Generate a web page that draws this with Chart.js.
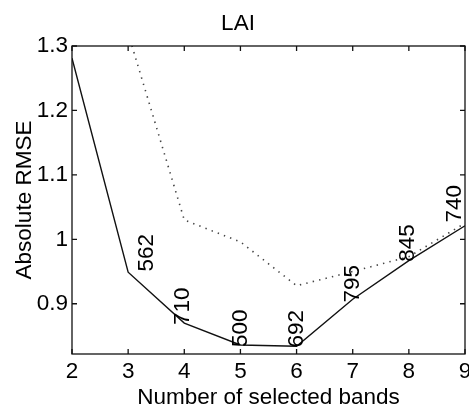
<!DOCTYPE html>
<html><head><meta charset="utf-8">
<script src="https://cdn.jsdelivr.net/npm/chart.js@4/dist/chart.umd.min.js"></script>
<style>html,body{margin:0;padding:0;background:#fff}#wrap{width:469px;height:408px}</style>
</head><body><div id="wrap"><canvas id="c" width="469" height="408"></canvas></div>
<script>
// ---- data ----
const bands = [2, 3, 4, 5, 6, 7, 8, 9];
const rmseSelected = [1.281, 0.949, 0.870, 0.836, 0.834, 0.907, 0.967, 1.021];
const rmseDotted = [null, 1.32, 1.030, 0.996, 0.928, 0.950, 0.973, 1.025];
const bandNames = ['562', '710', '500', '692', '795', '845', '740'];
const bandLabelX = [3.34, 3.98, 5.0, 6.0, 7.0, 7.99, 8.82];
const bandLabelY = [0.950, 0.867, 0.833, 0.832, 0.902, 0.965, 1.026];
const xTicks = [2, 3, 4, 5, 6, 7, 8, 9];
const yTicks = [0.9, 1.0, 1.1, 1.2, 1.3];
const yTickLabels = ['0.9', '1', '1.1', '1.2', '1.3'];

const FONT = '"Liberation Sans", Arial, Helvetica, sans-serif';
const FS = 22.5;

const toPts = (ys) => bands.map((b, i) => ({x: b, y: ys[i]}));

const framePlugin = {
  id: 'frameAndLabels',
  afterDraw(chart) {
    const {ctx, chartArea: a, scales: {x, y}} = chart;
    ctx.save();
    ctx.strokeStyle = '#111';
    ctx.lineWidth = 1.3;
    ctx.strokeRect(a.left, a.top, a.right - a.left, a.bottom - a.top);
    const tl = 5;
    ctx.beginPath();
    x.ticks.forEach(t => {
      const px = x.getPixelForValue(t.value);
      ctx.moveTo(px, a.bottom); ctx.lineTo(px, a.bottom - tl);
      ctx.moveTo(px, a.top); ctx.lineTo(px, a.top + tl);
    });
    y.ticks.forEach(t => {
      const py = y.getPixelForValue(t.value);
      ctx.moveTo(a.left, py); ctx.lineTo(a.left + tl, py);
      ctx.moveTo(a.right, py); ctx.lineTo(a.right - tl, py);
    });
    ctx.stroke();
    ctx.fillStyle = '#000';
    ctx.font = FS + 'px ' + FONT;
    ctx.textAlign = 'left';
    ctx.textBaseline = 'middle';
    bandNames.forEach((n, i) => {
      const px = x.getPixelForValue(bandLabelX[i]);
      const py = y.getPixelForValue(bandLabelY[i]);
      ctx.save();
      ctx.translate(px, py);
      ctx.rotate(-Math.PI / 2);
      ctx.fillText(n, 0, 0);
      ctx.restore();
    });
    ctx.restore();
  }
};

new Chart(document.getElementById('c'), {
  type: 'line',
  data: {
    datasets: [
      {data: toPts(rmseSelected), borderColor: '#111', borderWidth: 1.4, pointRadius: 0, tension: 0},
      {data: toPts(rmseDotted), borderColor: '#444', borderWidth: 1.6, borderDash: [1.4, 5.2], pointRadius: 0, tension: 0}
    ]
  },
  options: {
    responsive: false,
    devicePixelRatio: 1,
    animation: false,
    layout: {padding: {left: 11, right: 4, top: 0, bottom: 0}},
    plugins: {
      legend: {display: false},
      tooltip: {enabled: false},
      title: {
        display: true, text: 'LAI', color: '#000',
        font: {family: FONT, size: FS, weight: 'normal'},
        padding: {top: 10, bottom: 9}
      }
    },
    scales: {
      x: {
        type: 'linear', min: 2, max: 9,
        afterBuildTicks: s => { s.ticks = xTicks.map(v => ({value: v})); },
        afterFit: s => { s.height = 54; s.paddingRight = 0; },
        grid: {display: false, drawTicks: false},
        border: {display: false},
        ticks: {color: '#000', font: {family: FONT, size: FS}, padding: 4.5, maxRotation: 0},
        title: {display: true, text: 'Number of selected bands', color: '#000',
                font: {family: FONT, size: FS}, padding: {top: 0, bottom: -3}}
      },
      y: {
        type: 'linear', min: 0.822, max: 1.3,
        afterBuildTicks: s => { s.ticks = yTicks.map(v => ({value: v})); },
        afterFit: s => { s.width = 61; },
        grid: {display: false, drawTicks: false},
        border: {display: false},
        ticks: {color: '#000', font: {family: FONT, size: FS}, padding: 4,
                callback: (v) => yTickLabels[yTicks.findIndex(t => Math.abs(t - v) < 1e-9)]},
        title: {display: true, text: 'Absolute RMSE', color: '#000',
                font: {family: FONT, size: FS}, padding: 0}
      }
    }
  },
  plugins: [framePlugin]
});
</script></body></html>
